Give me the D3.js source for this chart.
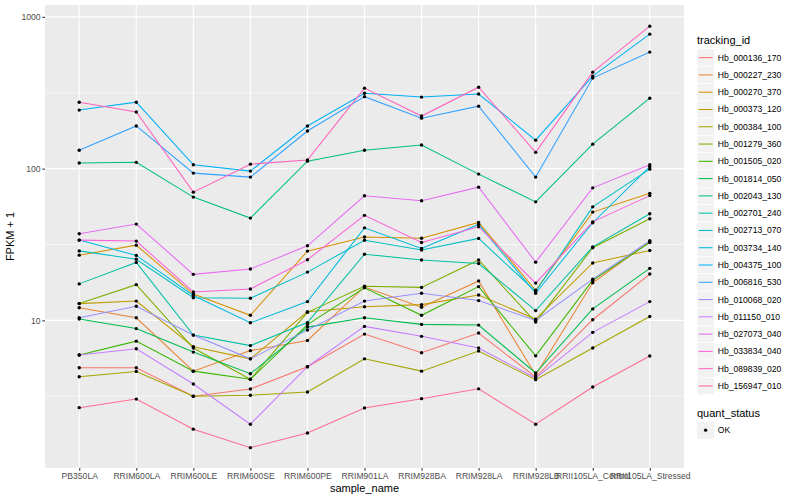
<!DOCTYPE html>
<html><head><meta charset="utf-8">
<script src="https://cdn.jsdelivr.net/npm/d3@7"></script>
<style>body{margin:0;background:#fff} text{font-family:"Liberation Sans",Arial,Helvetica,sans-serif}</style>
</head><body><svg id="c" width="800" height="500"></svg>
<script>
const samples = ["PB350LA","RRIM600LA","RRIM600LE","RRIM600SE","RRIM600PE","RRIM901LA","RRIM928BA","RRIM928LA","RRIM928LB","RRII105LA_Control","RRII105LA_Stressed"];
const trackingIds = ["Hb_000136_170","Hb_000227_230","Hb_000270_370","Hb_000373_120","Hb_000384_100","Hb_001279_360","Hb_001505_020","Hb_001814_050","Hb_002043_130","Hb_002701_240","Hb_002713_070","Hb_003734_140","Hb_004375_100","Hb_006816_530","Hb_010068_020","Hb_011150_010","Hb_027073_040","Hb_033834_040","Hb_089839_020","Hb_156947_010"];
const hb_000136_170 = [4.87, 4.87, 3.16, 3.53, 4.95, 8.12, 6.12, 8.25, 4.23, 10.1, 20.2];
const hb_000227_230 = [12.1, 10.4, 4.63, 6.32, 7.38, 16.6, 12.2, 18.2, 4.36, 17.7, 33.0];
const hb_000270_370 = [26.9, 31.3, 14.9, 10.8, 28.6, 35.4, 34.8, 44.2, 15.8, 51.7, 68.7];
const hb_000373_120 = [12.9, 13.4, 6.70, 5.58, 11.4, 12.3, 12.7, 14.7, 10.2, 23.9, 28.9];
const hb_000384_100 = [4.25, 4.61, 3.16, 3.21, 3.37, 5.58, 4.63, 6.28, 4.07, 6.57, 10.6];
const hb_001279_360 = [12.9, 17.2, 6.57, 4.09, 11.3, 16.8, 16.5, 25.0, 9.74, 30.1, 46.7];
const hb_001505_020 = [5.91, 7.30, 4.63, 4.09, 9.38, 16.4, 10.8, 16.7, 5.84, 18.4, 32.6];
const hb_001814_050 = [10.2, 8.83, 6.18, 4.45, 9.03, 10.4, 9.41, 9.31, 4.50, 11.9, 22.0];
const hb_002043_130 = [109, 110, 64.9, 47.2, 112, 132, 143, 92.0, 60.4, 145, 291];
const hb_002701_240 = [17.4, 24.1, 8.0, 6.82, 9.67, 27.3, 25.0, 23.7, 11.6, 30.5, 50.4];
const hb_002713_070 = [28.7, 25.3, 14.1, 14.0, 20.8, 33.7, 29.1, 34.7, 15.5, 56.0, 99.2];
const hb_003734_140 = [33.8, 26.8, 14.6, 9.64, 13.3, 40.7, 29.8, 42.9, 15.1, 44.0, 103];
const hb_004375_100 = [243, 274, 106, 96.3, 191, 314, 296, 310, 154, 407, 769];
const hb_006816_530 = [132, 191, 93.4, 87.9, 177, 298, 215, 258, 87.9, 395, 586];
const hb_010068_020 = [10.4, 12.4, 8.0, 5.58, 8.63, 13.4, 15.1, 13.5, 10.0, 18.7, 33.5];
const hb_011150_010 = [5.91, 6.50, 3.81, 2.07, 4.95, 9.13, 7.85, 6.57, 4.17, 8.34, 13.3];
const hb_027073_040 = [37.2, 43.1, 20.1, 21.8, 31.0, 66.2, 61.4, 75.5, 24.2, 74.7, 106];
const hb_033834_040 = [33.8, 33.3, 15.4, 16.1, 25.1, 49.2, 32.6, 41.4, 17.6, 44.6, 66.4];
const hb_089839_020 = [274, 236, 70.0, 107, 114, 339, 222, 344, 128, 432, 868];
const hb_156947_010 = [2.66, 3.03, 1.92, 1.45, 1.81, 2.65, 3.05, 3.54, 2.07, 3.64, 5.82];
const yTicks = [10, 100, 1000];
const yMinor = [Math.sqrt(10), Math.sqrt(1000), Math.sqrt(100000)];
const quantStatus = ["OK"];

const seriesValues = [hb_000136_170,hb_000227_230,hb_000270_370,hb_000373_120,hb_000384_100,hb_001279_360,hb_001505_020,hb_001814_050,hb_002043_130,hb_002701_240,hb_002713_070,hb_003734_140,hb_004375_100,hb_006816_530,hb_010068_020,hb_011150_010,hb_027073_040,hb_033834_040,hb_089839_020,hb_156947_010];
const palette = ["#F8766D","#EA8331","#D89000","#C09B00","#A3A500","#7CAE00","#39B600","#00BB4E","#00BF7D","#00C1A3","#00BFC4","#00BAE0","#00B0F6","#35A2FF","#9590FF","#C77CFF","#E76BF3","#FA62DB","#FF62BC","#FF6C91"];
const series = trackingIds.map((id,i)=>({id, values: seriesValues[i], color: palette[i]}));

const svg = d3.select("#c");
const L=45, R=684, T=5, B=468;
const x = d3.scalePoint().domain(samples).range([L,R]).padding(0.6);
const y = d3.scaleLog().domain([1.065,1197]).range([B,T]);
const color = d3.scaleOrdinal().domain(trackingIds).range(palette);

svg.append("rect").attr("x",L).attr("y",T).attr("width",R-L).attr("height",B-T).attr("fill","#EBEBEB");
const grid = svg.append("g");
grid.selectAll(".mn").data(yMinor).join("line").attr("x1",L).attr("x2",R)
  .attr("y1",d=>y(d)).attr("y2",d=>y(d)).attr("stroke","#fff").attr("stroke-width",0.55);
grid.selectAll(".mj").data(yTicks).join("line").attr("x1",L).attr("x2",R)
  .attr("y1",d=>y(d)).attr("y2",d=>y(d)).attr("stroke","#fff").attr("stroke-width",1.1);
grid.selectAll(".vx").data(samples).join("line").attr("y1",T).attr("y2",B)
  .attr("x1",d=>x(d)).attr("x2",d=>x(d)).attr("stroke","#fff").attr("stroke-width",1.1);

const line = d3.line().x((d,i)=>x(samples[i])).y(d=>y(d));
svg.append("g").selectAll("path").data(series).join("path")
  .attr("d",d=>line(d.values)).attr("fill","none").attr("stroke",d=>color(d.id)).attr("stroke-width",1.05);
const pts = svg.append("g");
series.forEach(s=>{
  pts.selectAll(null).data(s.values).join("circle")
    .attr("cx",(d,i)=>x(samples[i])).attr("cy",d=>y(d)).attr("r",1.7).attr("fill","#000");
});

// axes
const ya = svg.append("g").attr("transform",`translate(${L},0)`)
  .call(d3.axisLeft(y).tickValues(yTicks).tickFormat(d3.format("d")).tickSize(2.7).tickPadding(1.8));
const xa = svg.append("g").attr("transform",`translate(0,${B})`)
  .call(d3.axisBottom(x).tickSize(2.7).tickPadding(2.2));
[ya,xa].forEach(a=>{
  a.select(".domain").remove();
  a.selectAll(".tick line").attr("stroke","#333333").attr("stroke-width",1.05);
  a.selectAll(".tick text").attr("fill","#4D4D4D").style("font-size","8.6px").style("font-family",'"Liberation Sans",Arial,sans-serif');
});

svg.append("text").attr("x",(L+R)/2).attr("y",492).attr("text-anchor","middle").style("font-size","11px").text("sample_name");
svg.append("text").attr("transform",`translate(14,${(T+B)/2}) rotate(-90)`).attr("text-anchor","middle").style("font-size","11px").text("FPKM + 1");

// legend
const lg = svg.append("g");
lg.append("text").attr("x",697).attr("y",44).style("font-size","11px").text("tracking_id");
const ks = 17.28, k0 = 49;
const items = lg.selectAll(".it").data(trackingIds).join("g").attr("transform",(d,i)=>`translate(697,${k0+i*ks})`);
items.append("rect").attr("width",ks).attr("height",ks).attr("fill","#F2F2F2").attr("stroke","#fff").attr("stroke-width",0.6);
items.append("line").attr("x1",1.7).attr("x2",ks-1.7).attr("y1",ks/2).attr("y2",ks/2).attr("stroke",d=>color(d)).attr("stroke-width",1.05);
items.append("text").attr("x",ks+3.5).attr("y",ks/2).attr("dy","0.35em").style("font-size","8.6px").text(d=>d);

lg.append("text").attr("x",697).attr("y",416.5).style("font-size","11px").text("quant_status");
const q = lg.selectAll(".q").data(quantStatus).join("g").attr("transform",(d,i)=>`translate(697,${421.5+i*ks})`);
q.append("rect").attr("width",ks).attr("height",ks).attr("fill","#F2F2F2");
q.append("circle").attr("cx",ks/2).attr("cy",ks/2).attr("r",1.7).attr("fill","#000");
q.append("text").attr("x",ks+3.5).attr("y",ks/2).attr("dy","0.35em").style("font-size","8.6px").text(d=>d);
</script></body></html>
